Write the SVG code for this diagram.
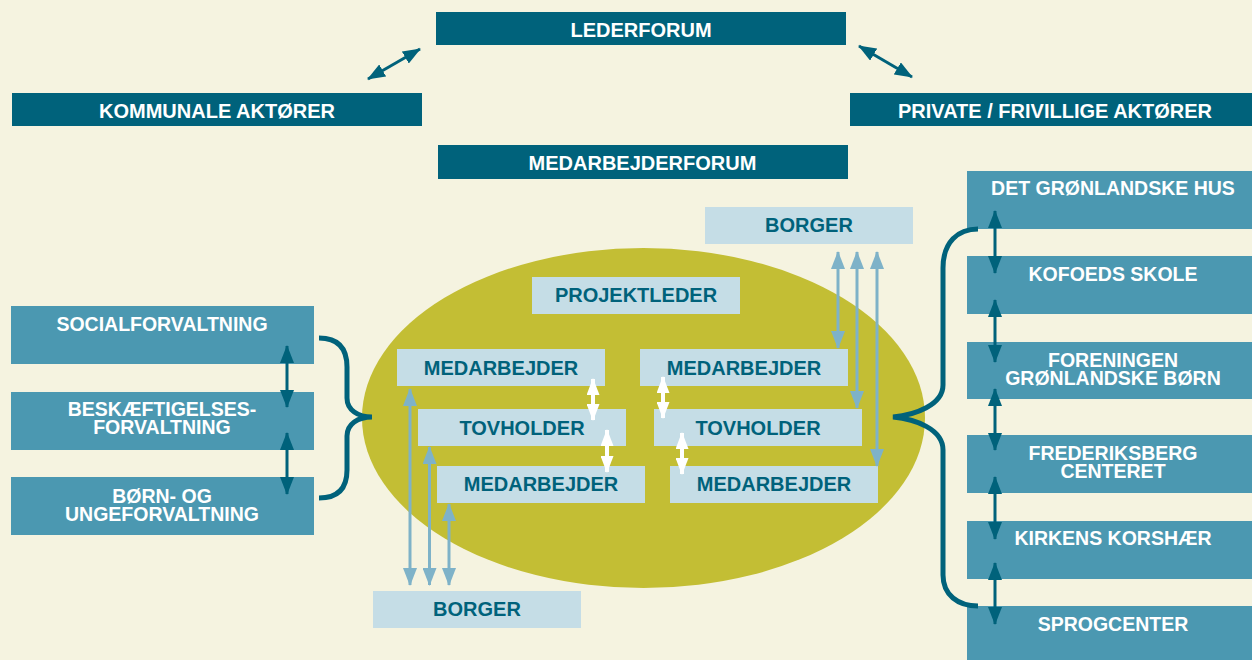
<svg xmlns="http://www.w3.org/2000/svg" width="1252" height="660" viewBox="0 0 1252 660">
<defs>
<style>
text{font-family:"Liberation Sans",Arial,sans-serif;font-weight:bold;text-anchor:middle;}
.dk{fill:#00627b;}
.md{fill:#4b98b1;}
.lt{fill:#c5dde6;}
.wt{fill:#ffffff;font-size:20px;}
.wt2{fill:#ffffff;font-size:19.5px;}
.tt{fill:#00627b;font-size:20px;}
.cd{stroke:#00627b;stroke-width:3;fill:none;marker-start:url(#ad);marker-end:url(#ad);}
.cw{stroke:#ffffff;stroke-width:4;fill:none;marker-start:url(#aw);marker-end:url(#aw);}
.cl{stroke:#7eb2c8;stroke-width:3;fill:none;marker-start:url(#al);marker-end:url(#al);}
.br{stroke:#00627b;stroke-width:5;fill:none;}
</style>
<marker id="ad" viewBox="0 0 18 14" markerWidth="18" markerHeight="14" refX="17" refY="7" orient="auto-start-reverse" markerUnits="userSpaceOnUse"><path d="M0,0 L18,7 L0,14 z" fill="#00627b"/></marker>
<marker id="aw" viewBox="0 0 17 13" markerWidth="17" markerHeight="13" refX="16" refY="6.5" orient="auto-start-reverse" markerUnits="userSpaceOnUse"><path d="M0,0 L17,6.5 L0,13 z" fill="#ffffff"/></marker>
<marker id="al" viewBox="0 0 18 14" markerWidth="18" markerHeight="14" refX="17" refY="7" orient="auto-start-reverse" markerUnits="userSpaceOnUse"><path d="M0,0 L18,7 L0,14 z" fill="#7eb2c8"/></marker>
</defs>
<rect width="1252" height="660" fill="#f5f3e0"/>
<ellipse id="team" cx="643.5" cy="418" rx="281.5" ry="170" fill="#c3be34"/>

<g id="lederforum"><rect class="dk" x="436" y="12" width="410" height="33"/><text class="wt" x="641" y="36.5">LEDERFORUM</text></g>
<g id="kommunale"><rect class="dk" x="12" y="93" width="410" height="33"/><text class="wt" x="217" y="118">KOMMUNALE AKTØRER</text></g>
<g id="private"><rect class="dk" x="850" y="93" width="402" height="33"/><text class="wt" x="1055" y="118">PRIVATE / FRIVILLIGE AKTØRER</text></g>
<g id="medarbejderforum"><rect class="dk" x="438" y="145" width="410" height="34"/><text class="wt" x="642.5" y="170">MEDARBEJDERFORUM</text></g>

<g id="social"><rect class="md" x="11" y="306" width="303" height="58"/><text class="wt2" x="162" y="331">SOCIALFORVALTNING</text></g>
<g id="beskaeftigelse"><rect class="md" x="11" y="392" width="303" height="58"/><text class="wt2" x="162" y="416">BESKÆFTIGELSES-</text><text class="wt2" x="162" y="434">FORVALTNING</text></g>
<g id="boernunge"><rect class="md" x="11" y="477" width="303" height="58"/><text class="wt2" x="162" y="503">BØRN- OG</text><text class="wt2" x="162" y="521">UNGEFORVALTNING</text></g>

<g id="groenlandske-hus"><rect class="md" x="967" y="171" width="285" height="58"/><text class="wt2" x="1113" y="195">DET GRØNLANDSKE HUS</text></g>
<g id="kofoeds"><rect class="md" x="967" y="256" width="285" height="58"/><text class="wt2" x="1113" y="281">KOFOEDS SKOLE</text></g>
<g id="foreningen"><rect class="md" x="967" y="342" width="285" height="57"/><text class="wt2" x="1113" y="367">FORENINGEN</text><text class="wt2" x="1113" y="384.5">GRØNLANDSKE BØRN</text></g>
<g id="frederiksberg"><rect class="md" x="967" y="435" width="285" height="58"/><text class="wt2" x="1113" y="460">FREDERIKSBERG</text><text class="wt2" x="1113" y="478">CENTERET</text></g>
<g id="kirkens"><rect class="md" x="967" y="521" width="285" height="58"/><text class="wt2" x="1113" y="545">KIRKENS KORSHÆR</text></g>
<g id="sprogcenter"><rect class="md" x="967" y="606" width="285" height="54"/><text class="wt2" x="1113" y="631">SPROGCENTER</text></g>

<g id="borger-top"><rect class="lt" x="705" y="207" width="208" height="37"/><text class="tt" x="809" y="232">BORGER</text></g>
<g id="projektleder"><rect class="lt" x="532" y="277" width="208" height="37"/><text class="tt" x="636" y="302">PROJEKTLEDER</text></g>
<g id="medarbejder-l1"><rect class="lt" x="397" y="349" width="208" height="37"/><text class="tt" x="501" y="374.5">MEDARBEJDER</text></g>
<g id="tovholder-l"><rect class="lt" x="418" y="409" width="208" height="37"/><text class="tt" x="522" y="434.5">TOVHOLDER</text></g>
<g id="medarbejder-l2"><rect class="lt" x="437" y="466" width="208" height="37"/><text class="tt" x="541" y="491">MEDARBEJDER</text></g>
<g id="medarbejder-r1"><rect class="lt" x="640" y="349" width="208" height="37"/><text class="tt" x="744" y="374.5">MEDARBEJDER</text></g>
<g id="tovholder-r"><rect class="lt" x="654" y="409" width="208" height="37"/><text class="tt" x="758" y="434.5">TOVHOLDER</text></g>
<g id="medarbejder-r2"><rect class="lt" x="670" y="466" width="208" height="37"/><text class="tt" x="774" y="491">MEDARBEJDER</text></g>
<g id="borger-bottom"><rect class="lt" x="373" y="591" width="208" height="37"/><text class="tt" x="477" y="616">BORGER</text></g>

<g id="connectors">
<line class="cd" x1="368" y1="79" x2="420" y2="49"/>
<line class="cd" x1="859" y1="46" x2="912" y2="77"/>
<line class="cd" x1="287" y1="346" x2="287" y2="407"/>
<line class="cd" x1="287" y1="433" x2="287" y2="494"/>
<line class="cd" x1="995" y1="211" x2="995" y2="273"/>
<line class="cd" x1="995" y1="300" x2="995" y2="362"/>
<line class="cd" x1="995" y1="389" x2="995" y2="450"/>
<line class="cd" x1="995" y1="477" x2="995" y2="539"/>
<line class="cd" x1="995" y1="563" x2="995" y2="624"/>
<path class="br" d="M319,338 C338,338 347,348 347,367 L347,398 C347,410 358,417 372,417 C358,417 347,424 347,436 L347,470 C347,488 338,498 319,498"/>
<path class="br" d="M978,229 C958,229 943,242 943,268 L943,385 C943,405 915,415 893,417 C915,419 943,429 943,450 L943,575 C943,595 958,606 978,606"/>
<line class="cw" x1="593" y1="379" x2="593" y2="420"/>
<line class="cw" x1="607" y1="430" x2="607" y2="472"/>
<line class="cw" x1="663" y1="377" x2="663" y2="418"/>
<line class="cw" x1="682" y1="433" x2="682" y2="474"/>
<line class="cl" x1="838" y1="252" x2="838" y2="348"/>
<line class="cl" x1="857" y1="252" x2="857" y2="408"/>
<line class="cl" x1="877" y1="252" x2="877" y2="466"/>
<line class="cl" x1="410" y1="389" x2="410" y2="585"/>
<line class="cl" x1="429.5" y1="447" x2="429.5" y2="585"/>
<line class="cl" x1="449" y1="504" x2="449" y2="585"/>
</g>
</svg>
